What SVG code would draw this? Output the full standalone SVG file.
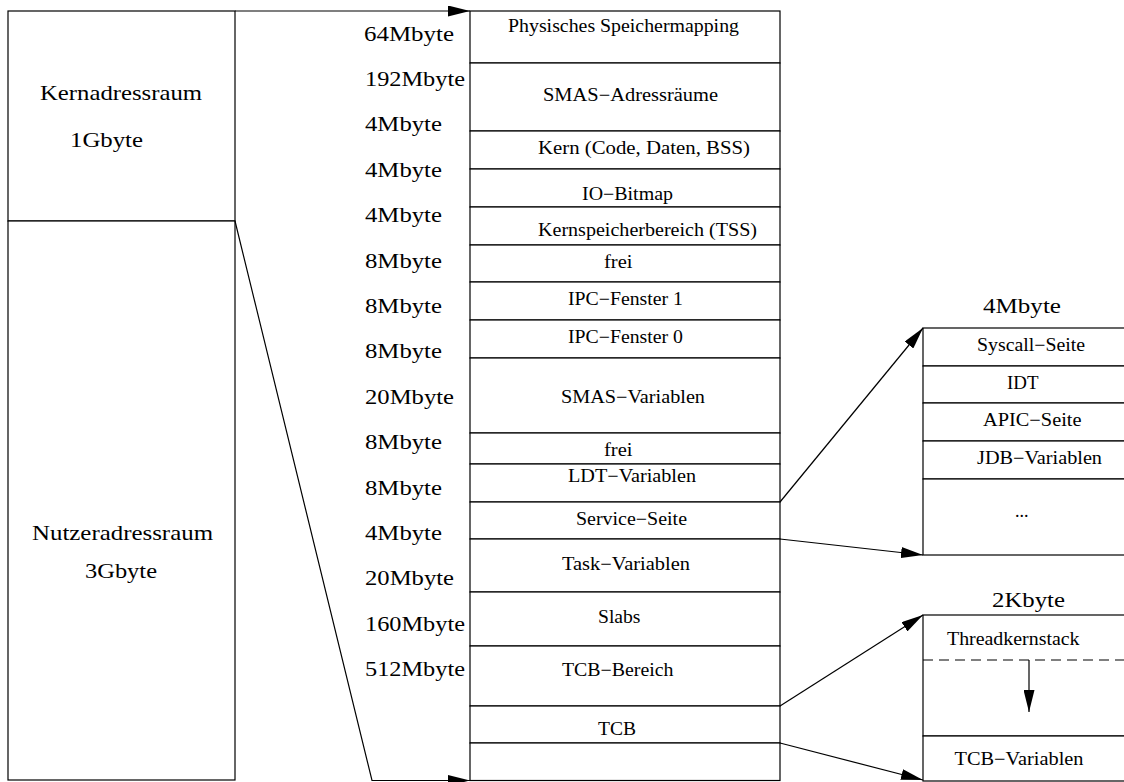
<svg xmlns="http://www.w3.org/2000/svg" width="1124" height="782" viewBox="0 0 1124 782">
<style>
.box{fill:#fff;stroke:#000;stroke-width:1.2}
.ln{fill:none;stroke:#000;stroke-width:1.2}
.dash{fill:none;stroke:#000;stroke-width:1.2;stroke-dasharray:10,6}
.big{font-family:"Liberation Serif","Times New Roman",serif;font-size:22px;fill:#000}
.sm{font-family:"Liberation Serif","Times New Roman",serif;font-size:18px;fill:#000}
</style>
<defs>
<marker id="ah" markerUnits="userSpaceOnUse" markerWidth="23" markerHeight="11" refX="22" refY="5.5" orient="auto" viewBox="0 0 23 11">
<path d="M0,0 L22,5.5 L0,11 z" fill="#000"/>
</marker>
</defs>
<rect width="1124" height="782" fill="#fff"/>

<g id="kernadressraum">
<rect class="box" x="8" y="11" width="227" height="210"/>
<text class="big" x="40" y="100" textLength="162" lengthAdjust="spacingAndGlyphs">Kernadressraum</text>
<text class="big" x="70" y="146.5" textLength="73" lengthAdjust="spacingAndGlyphs">1Gbyte</text>
</g>
<g id="nutzeradressraum">
<rect class="box" x="8" y="221" width="227" height="559"/>
<text class="big" x="32" y="540" textLength="181" lengthAdjust="spacingAndGlyphs">Nutzeradressraum</text>
<text class="big" x="85" y="577.5" textLength="72" lengthAdjust="spacingAndGlyphs">3Gbyte</text>
</g>

<g id="size-labels">
<text class="big" x="364" y="40.5" textLength="90" lengthAdjust="spacingAndGlyphs">64Mbyte</text>
<text class="big" x="365" y="85.9" textLength="100" lengthAdjust="spacingAndGlyphs">192Mbyte</text>
<text class="big" x="365" y="131.3" textLength="77" lengthAdjust="spacingAndGlyphs">4Mbyte</text>
<text class="big" x="365" y="176.7" textLength="77" lengthAdjust="spacingAndGlyphs">4Mbyte</text>
<text class="big" x="365" y="222.1" textLength="77" lengthAdjust="spacingAndGlyphs">4Mbyte</text>
<text class="big" x="365" y="267.5" textLength="77" lengthAdjust="spacingAndGlyphs">8Mbyte</text>
<text class="big" x="365" y="312.9" textLength="77" lengthAdjust="spacingAndGlyphs">8Mbyte</text>
<text class="big" x="365" y="358.3" textLength="77" lengthAdjust="spacingAndGlyphs">8Mbyte</text>
<text class="big" x="365" y="403.7" textLength="89" lengthAdjust="spacingAndGlyphs">20Mbyte</text>
<text class="big" x="365" y="449.1" textLength="77" lengthAdjust="spacingAndGlyphs">8Mbyte</text>
<text class="big" x="365" y="494.5" textLength="77" lengthAdjust="spacingAndGlyphs">8Mbyte</text>
<text class="big" x="365" y="539.9" textLength="77" lengthAdjust="spacingAndGlyphs">4Mbyte</text>
<text class="big" x="365" y="585.3" textLength="89" lengthAdjust="spacingAndGlyphs">20Mbyte</text>
<text class="big" x="365" y="630.7" textLength="100" lengthAdjust="spacingAndGlyphs">160Mbyte</text>
<text class="big" x="365" y="676.1" textLength="100" lengthAdjust="spacingAndGlyphs">512Mbyte</text>
</g>

<g id="seg-physisch"><rect class="box" x="470" y="11" width="310" height="52"/><text class="sm" x="508" y="32" textLength="231" lengthAdjust="spacingAndGlyphs">Physisches Speichermapping</text></g>
<g id="seg-smas-adr"><rect class="box" x="470" y="63" width="310" height="68"/><text class="sm" x="543" y="100.5" textLength="175" lengthAdjust="spacingAndGlyphs">SMAS−Adressräume</text></g>
<g id="seg-kern"><rect class="box" x="470" y="131" width="310" height="38"/><text class="sm" x="538" y="154" textLength="212" lengthAdjust="spacingAndGlyphs">Kern (Code, Daten, BSS)</text></g>
<g id="seg-io"><rect class="box" x="470" y="169" width="310" height="38"/><text class="sm" x="582" y="200" textLength="91" lengthAdjust="spacingAndGlyphs">IO−Bitmap</text></g>
<g id="seg-tss"><rect class="box" x="470" y="207" width="310" height="38"/><text class="sm" x="538" y="235.5" textLength="219" lengthAdjust="spacingAndGlyphs">Kernspeicherbereich (TSS)</text></g>
<g id="seg-frei1"><rect class="box" x="470" y="245" width="310" height="37"/><text class="sm" x="604" y="267.5" textLength="28.5" lengthAdjust="spacingAndGlyphs">frei</text></g>
<g id="seg-ipc1"><rect class="box" x="470" y="282" width="310" height="38"/><text class="sm" x="568" y="305" textLength="115" lengthAdjust="spacingAndGlyphs">IPC−Fenster 1</text></g>
<g id="seg-ipc0"><rect class="box" x="470" y="320" width="310" height="38"/><text class="sm" x="568" y="342.5" textLength="115" lengthAdjust="spacingAndGlyphs">IPC−Fenster 0</text></g>
<g id="seg-smas-var"><rect class="box" x="470" y="358" width="310" height="75"/><text class="sm" x="561" y="403" textLength="144" lengthAdjust="spacingAndGlyphs">SMAS−Variablen</text></g>
<g id="seg-frei2"><rect class="box" x="470" y="433" width="310" height="31"/><text class="sm" x="604" y="456" textLength="28.5" lengthAdjust="spacingAndGlyphs">frei</text></g>
<g id="seg-ldt"><rect class="box" x="470" y="464" width="310" height="38"/><text class="sm" x="568" y="482" textLength="128" lengthAdjust="spacingAndGlyphs">LDT−Variablen</text></g>
<g id="seg-service"><rect class="box" x="470" y="502" width="310" height="37"/><text class="sm" x="576" y="524.5" textLength="111" lengthAdjust="spacingAndGlyphs">Service−Seite</text></g>
<g id="seg-task"><rect class="box" x="470" y="539" width="310" height="53"/><text class="sm" x="562" y="569.5" textLength="128" lengthAdjust="spacingAndGlyphs">Task−Variablen</text></g>
<g id="seg-slabs"><rect class="box" x="470" y="592" width="310" height="54"/><text class="sm" x="598" y="622.5" textLength="42.5" lengthAdjust="spacingAndGlyphs">Slabs</text></g>
<g id="seg-tcb-bereich"><rect class="box" x="470" y="646" width="310" height="60"/><text class="sm" x="562" y="676" textLength="111.5" lengthAdjust="spacingAndGlyphs">TCB−Bereich</text></g>
<g id="seg-tcb"><rect class="box" x="470" y="706" width="310" height="37"/><text class="sm" x="598" y="735" textLength="38" lengthAdjust="spacingAndGlyphs">TCB</text></g>
<g id="seg-leer"><rect class="box" x="470" y="743" width="310" height="37.5"/></g>

<g id="service-seite-detail">
<text class="big" x="983" y="313" textLength="78" lengthAdjust="spacingAndGlyphs">4Mbyte</text>
<rect class="box" x="923" y="328" width="230" height="38"/>
<text class="sm" x="977" y="351" textLength="108" lengthAdjust="spacingAndGlyphs">Syscall−Seite</text>
<rect class="box" x="923" y="366" width="230" height="37"/>
<text class="sm" x="1007" y="389" textLength="31.5" lengthAdjust="spacingAndGlyphs">IDT</text>
<rect class="box" x="923" y="403" width="230" height="38"/>
<text class="sm" x="983" y="426" textLength="98.5" lengthAdjust="spacingAndGlyphs">APIC−Seite</text>
<rect class="box" x="923" y="441" width="230" height="38"/>
<text class="sm" x="977" y="463.5" textLength="125" lengthAdjust="spacingAndGlyphs">JDB−Variablen</text>
<rect class="box" x="923" y="479" width="230" height="76"/>
<text class="sm" x="1015" y="516.5">...</text>
</g>

<g id="tcb-detail">
<text class="big" x="992" y="607" textLength="73" lengthAdjust="spacingAndGlyphs">2Kbyte</text>
<rect class="box" x="923" y="615" width="230" height="121"/>
<text class="sm" x="947" y="645" textLength="132.5" lengthAdjust="spacingAndGlyphs">Threadkernstack</text>
<line class="dash" x1="923" y1="660" x2="1124" y2="660"/>
<rect class="box" x="923" y="736" width="230" height="45"/>
<text class="sm" x="954.5" y="765" textLength="129" lengthAdjust="spacingAndGlyphs">TCB−Variablen</text>
</g>

<g id="connectors">
<path class="ln" d="M235,11 L470,11" marker-end="url(#ah)"/>
<path class="ln" d="M235,221 L372,780.5 L470,780.5" marker-end="url(#ah)"/>
<path class="ln" d="M780,502 L923,328" marker-end="url(#ah)"/>
<path class="ln" d="M780,539 L923,555" marker-end="url(#ah)"/>
<path class="ln" d="M780,706 L923,615" marker-end="url(#ah)"/>
<path class="ln" d="M780,743 L923,780" marker-end="url(#ah)"/>
<path class="ln" d="M1029,660 L1029,712" marker-end="url(#ah)"/>
</g>
</svg>
